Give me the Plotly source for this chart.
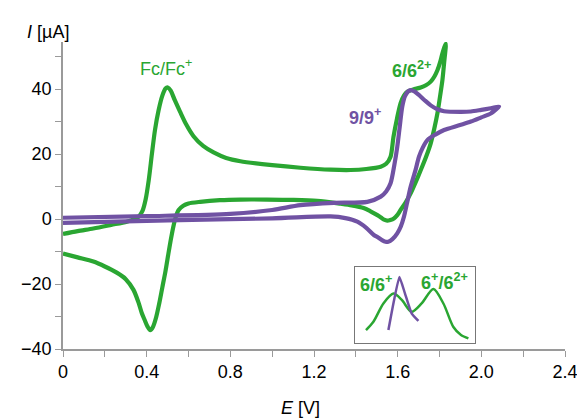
import plotly.graph_objects as go

# ---- data ----
# compound 6 + ferrocene CV (forward then reverse)
g_E = [0, 0.07, 0.145, 0.23, 0.305, 0.361, 0.38, 0.395, 0.41, 0.425, 0.44, 0.457, 0.475, 0.49, 0.501,
       0.515, 0.535, 0.56, 0.59, 0.624, 0.67, 0.72, 0.78, 0.848, 1.0, 1.135, 1.279, 1.375, 1.45, 1.519,
       1.545, 1.566, 1.58, 1.597, 1.614, 1.63, 1.646, 1.68, 1.71, 1.735, 1.758, 1.775, 1.79, 1.803, 1.814, 1.83,
       1.822, 1.814, 1.802, 1.79, 1.775, 1.758, 1.735, 1.71, 1.685, 1.662, 1.637, 1.614, 1.598, 1.582, 1.565,
       1.55, 1.535, 1.52, 1.503, 1.47, 1.437, 1.38, 1.327, 1.215, 1.1, 0.976, 0.848, 0.75, 0.656, 0.6,
       0.575, 0.553, 0.54, 0.528, 0.515, 0.504, 0.49, 0.475, 0.46, 0.445, 0.43, 0.417, 0.405, 0.39, 0.377,
       0.36, 0.337, 0.3, 0.257, 0.2, 0.145, 0.07, 0]
g_I = [-4.6, -3.7, -2.9, -1.8, -0.8, 0.7, 2.5, 6.0, 12.0, 20.0, 27.5, 33.5, 38.0, 40.2, 40.5,
       39.5, 36.5, 33.0, 29.0, 25.5, 22.5, 20.5, 18.8, 17.8, 16.6, 15.8, 15.2, 15.1, 15.4, 16.1,
       17.0, 19.2, 25.3, 31.0, 35.7, 38.0, 39.2, 40.0, 40.5, 41.2, 42.3, 43.8, 45.8, 48.3, 51.0, 54.0,
       48.0, 42.8, 37.5, 32.5, 27.8, 23.3, 19.0, 15.0, 11.2, 7.9, 5.0, 2.8, 1.2, 0.2, -0.3,
       -0.5, -0.2, 0.5, 1.2, 2.4, 3.4, 4.2, 4.7, 5.6, 5.9, 6.0, 6.0, 5.8, 5.3, 4.8,
       4.1, 2.8, 0.8, -2.2, -6.5, -10.6, -16.0, -21.0, -26.0, -30.3, -33.2, -34.2, -33.2, -31.0, -29.0,
       -25.5, -21.8, -18.5, -16.5, -14.6, -13.1, -11.8, -10.6]

# compound 9 CV
p_E = [0, 0.4, 0.8, 1.0, 1.135, 1.295, 1.455, 1.519, 1.545, 1.566, 1.585, 1.598, 1.61, 1.622, 1.635, 1.65,
       1.662, 1.68, 1.70, 1.73, 1.758, 1.79, 1.822, 1.9, 1.95, 2.0, 2.045, 2.085,
       2.06, 2.045, 2.0, 1.95, 1.89, 1.822, 1.78, 1.742, 1.72, 1.702, 1.685, 1.662, 1.645, 1.63, 1.615,
       1.598, 1.575, 1.555, 1.542, 1.525, 1.505, 1.486, 1.45, 1.407, 1.35, 1.279, 1.0, 0.5, 0]
p_I = [0.4, 0.9, 1.6, 2.8, 4.3, 5.0, 5.3, 6.9, 8.5, 11.0, 17.0, 22.2, 28.5, 34.6, 37.8, 39.3,
       39.7, 39.3, 38.3, 36.5, 35.0, 33.8, 33.2, 33.0, 33.1, 33.6, 34.1, 34.6,
       33.2, 32.5, 31.3, 30.0, 28.8, 27.4, 26.0, 24.3, 22.0, 19.2, 15.0, 9.9, 5.0, 0.7, -2.3,
       -4.4, -6.2, -7.0, -7.0, -6.5, -5.6, -4.9, -2.7, -0.8, 0.3, 0.8, 0.2, -0.4, -1.2]

# inset: differential pulse voltammograms (arbitrary current units)
dg_E = [1.455, 1.492, 1.542, 1.592, 1.633, 1.683, 1.733, 1.792, 1.842, 1.892, 1.93, 1.967]
dg_Y = [0.17, 0.28, 0.52, 0.65, 0.57, 0.41, 0.52, 0.71, 0.52, 0.21, 0.105, 0.06]
dp_E = [1.567, 1.592, 1.622, 1.65, 1.683, 1.717]
dp_Y = [0.17, 0.52, 0.87, 0.65, 0.39, 0.29]

x_ticks = [0, 0.4, 0.8, 1.2, 1.6, 2.0, 2.4]
x_labels = ["0", "0.4", "0.8", "1.2", "1.6", "2.0", "2.4"]
y_ticks = [-40, -20, 0, 20, 40]
y_labels = ["\u221240", "\u221220", "0", "20", "40"]

GREEN = "#2aa632"
PURPLE = "#7052a3"
AX = "#9a9a9a"
FONT = "Liberation Sans"

fig = go.Figure()
fig.add_trace(go.Scatter(x=g_E, y=g_I, mode="lines", line=dict(color=GREEN, width=4.2, shape="spline", smoothing=0.8),
                         hoverinfo="skip"))
fig.add_trace(go.Scatter(x=p_E, y=p_I, mode="lines", line=dict(color=PURPLE, width=4.2, shape="spline", smoothing=0.8),
                         hoverinfo="skip"))
fig.add_trace(go.Scatter(x=dg_E, y=dg_Y, mode="lines", xaxis="x2", yaxis="y2",
                         line=dict(color=GREEN, width=2.5, shape="spline", smoothing=0.8), hoverinfo="skip"))
fig.add_trace(go.Scatter(x=dp_E, y=dp_Y, mode="lines", xaxis="x2", yaxis="y2",
                         line=dict(color=PURPLE, width=2.5, shape="spline", smoothing=0.4), hoverinfo="skip"))

W, H = 577, 419
L, R, T, B = 63, 12, 42, 70
pw, ph = W - L - R, H - T - B

def px(x):
    return (x - L) / pw

def py(y):
    return (H - B - y) / ph

fig.update_layout(
    width=W, height=H, margin=dict(l=L, r=R, t=T, b=B, autoexpand=False),
    paper_bgcolor="white", plot_bgcolor="white", showlegend=False,
    font=dict(family=FONT, size=18, color="black"),
    xaxis=dict(range=[0, 2.4], tickvals=x_ticks, ticktext=x_labels, ticks="outside", ticklen=6,
               tickcolor=AX, showline=True, linecolor=AX, linewidth=1.5, showgrid=False, zeroline=False,
               automargin=False, ticklabeloverflow="allow",
               minor=dict(tick0=0, dtick=0.2, ticks="outside", ticklen=6, tickcolor=AX, showgrid=False)),
    yaxis=dict(range=[-40, 54.5], tickvals=y_ticks, ticktext=y_labels, ticks="outside", ticklen=6,
               tickcolor=AX, showline=True, linecolor=AX, linewidth=1.5, showgrid=False, zeroline=False,
               automargin=False, ticklabeloverflow="allow",
               minor=dict(tick0=0, dtick=10, ticks="outside", ticklen=6, tickcolor=AX, showgrid=False)),
    xaxis2=dict(domain=[px(355), px(475)], anchor="y2", range=[1.40, 2.00], showline=True, mirror=True,
                linecolor="#777", linewidth=1.2, showticklabels=False, ticks="", showgrid=False, zeroline=False,
                automargin=False),
    yaxis2=dict(domain=[py(343), py(267)], anchor="x2", range=[0, 1], showline=True, mirror=True,
                linecolor="#777", linewidth=1.2, showticklabels=False, ticks="", showgrid=False, zeroline=False,
                automargin=False),
)

ann = [
    dict(text="Fc/Fc<sup>+</sup>", x=0.493, y=46.5, xref="x", yref="y", font=dict(color=GREEN, size=18)),
    dict(text="<b>6/6<sup>2+</sup></b>", x=1.665, y=46.0, xref="x", yref="y", font=dict(color=GREEN, size=18)),
    dict(text="<b>9/9<sup>+</sup></b>", x=1.445, y=31.5, xref="x", yref="y", font=dict(color=PURPLE, size=18)),
    dict(text="<b>6/6<sup>+</sup></b>", x=px(376), y=py(283), xref="paper", yref="paper",
         font=dict(color=GREEN, size=18)),
    dict(text="<b>6<sup>+</sup>/6<sup>2+</sup></b>", x=px(444), y=py(281), xref="paper", yref="paper",
         font=dict(color=GREEN, size=18)),
    dict(text="<i>I</i> [\u00b5A]", x=px(48), y=py(32), xref="paper", yref="paper", font=dict(size=18)),
    dict(text="<i>E</i> [V]", x=px(300), y=py(408), xref="paper", yref="paper", font=dict(size=18)),
]
for a in ann:
    a.update(showarrow=False, xanchor="center", yanchor="middle")
fig.update_layout(annotations=ann)

fig.write_html("out.html")
